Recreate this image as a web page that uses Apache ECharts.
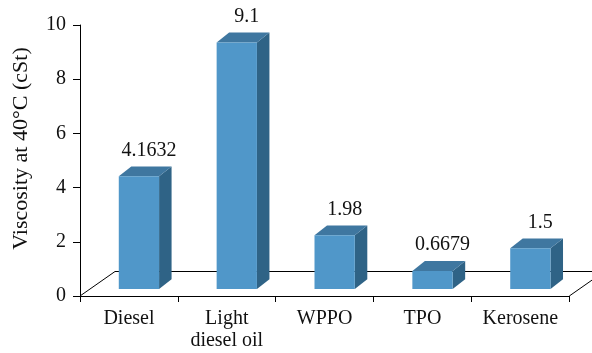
<!DOCTYPE html>
<html>
<head>
<meta charset="utf-8">
<script src="https://cdn.jsdelivr.net/npm/echarts@6/dist/echarts.min.js"></script>
</head>
<body style="margin:0;background:#fff">
<div id="chart" style="width:592px;height:353px"></div>
<script>
// Fuel samples and their kinematic viscosity at 40 °C
const categories = ['Diesel', 'Light\ndiesel oil', 'WPPO', 'TPO', 'Kerosene'];
const viscosity = [4.1632, 9.1, 1.98, 0.6679, 1.5];
const valueLabels = ['4.1632', '9.1', '1.98', '0.6679', '1.5'];
const yTicks = [0, 2, 4, 6, 8, 10];

const SERIF = 'Liberation Serif';
const INK = '#111';

// pseudo-3D geometry (pixels)
const FLOOR_DX = 35, FLOOR_DY = -24.5;     // depth of the floor plane
const BAR_DX = 10, BAR_DY = -7;            // where bars stand on the floor
const BAR_W = 40.3;                        // front face width
const SIDE_DX = 12.5, SIDE_DY = -9.8;      // bar depth

const FRONT = '#5097C9', SIDE = '#2F6386', TOP = '#3F77A0';

function renderFloor(params, api) {
  const cs = params.coordSys;
  const x0 = cs.x, x1 = cs.x + cs.width, y0 = cs.y + cs.height;
  return {
    type: 'polyline',
    shape: { points: [[x0, y0], [x0 + FLOOR_DX, y0 + FLOOR_DY], [x1 + FLOOR_DX, y0 + FLOOR_DY], [x1, y0]] },
    style: { stroke: '#000', lineWidth: 1, fill: null }
  };
}

function renderBar(params, api) {
  const idx = api.value(0);
  const val = api.value(1);
  const base = api.coord([idx, 0]);
  const top = api.coord([idx, val]);
  const cx = base[0] + BAR_DX;
  const xl = cx - BAR_W / 2, xr = cx + BAR_W / 2;
  const yb = base[1] + BAR_DY, yt = top[1] + BAR_DY;
  return {
    type: 'group',
    children: [
      { type: 'polygon', shape: { points: [[xr, yb], [xr + SIDE_DX, yb + SIDE_DY], [xr + SIDE_DX, yt + SIDE_DY], [xr, yt]] }, style: { fill: SIDE } },
      { type: 'polygon', shape: { points: [[xl, yt], [xr, yt], [xr + SIDE_DX, yt + SIDE_DY], [xl + SIDE_DX, yt + SIDE_DY]] }, style: { fill: TOP } },
      { type: 'rect', shape: { x: xl, y: yt, width: BAR_W, height: yb - yt }, style: { fill: FRONT } },
      { type: 'text', x: cx + 10, y: yt + SIDE_DY - 6,
        style: { text: valueLabels[idx], fill: INK, fontFamily: SERIF, fontSize: 20, align: 'center', verticalAlign: 'bottom' } }
    ]
  };
}

const chart = echarts.init(document.getElementById('chart'));
chart.setOption({
  animation: false,
  backgroundColor: '#fff',
  textStyle: { fontFamily: SERIF, fontSize: 20, color: INK },
  grid: { left: 80, right: 22.7, top: 25, bottom: 57 },
  xAxis: {
    type: 'category',
    data: categories,
    axisLine: { lineStyle: { color: '#000', width: 1 } },
    axisTick: { show: true, length: 6, lineStyle: { color: '#000' } },
    axisLabel: { interval: 0, color: INK, fontFamily: SERIF, fontSize: 20, lineHeight: 22, margin: 12 }
  },
  yAxis: {
    type: 'value',
    min: 0, max: 10, interval: 2,
    name: 'Viscosity at 40°C (cSt)',
    nameLocation: 'middle',
    nameGap: 48,
    nameTextStyle: { color: INK, fontFamily: SERIF, fontSize: 22, padding: [0, 0, 0, 24] },
    axisLine: { show: true, lineStyle: { color: '#000', width: 1 } },
    axisTick: { show: true, length: 7, lineStyle: { color: '#000' } },
    splitLine: { show: false },
    axisLabel: { color: INK, fontFamily: SERIF, fontSize: 20, margin: 14,
      formatter: v => yTicks.includes(v) ? String(v) : '' }
  },
  series: [
    { type: 'custom', renderItem: renderFloor, data: [[0, 0]], z: 1, silent: true },
    { type: 'custom', renderItem: renderBar, data: viscosity.map((v, i) => [i, v]), z: 2, silent: true }
  ]
});
</script>
</body>
</html>
